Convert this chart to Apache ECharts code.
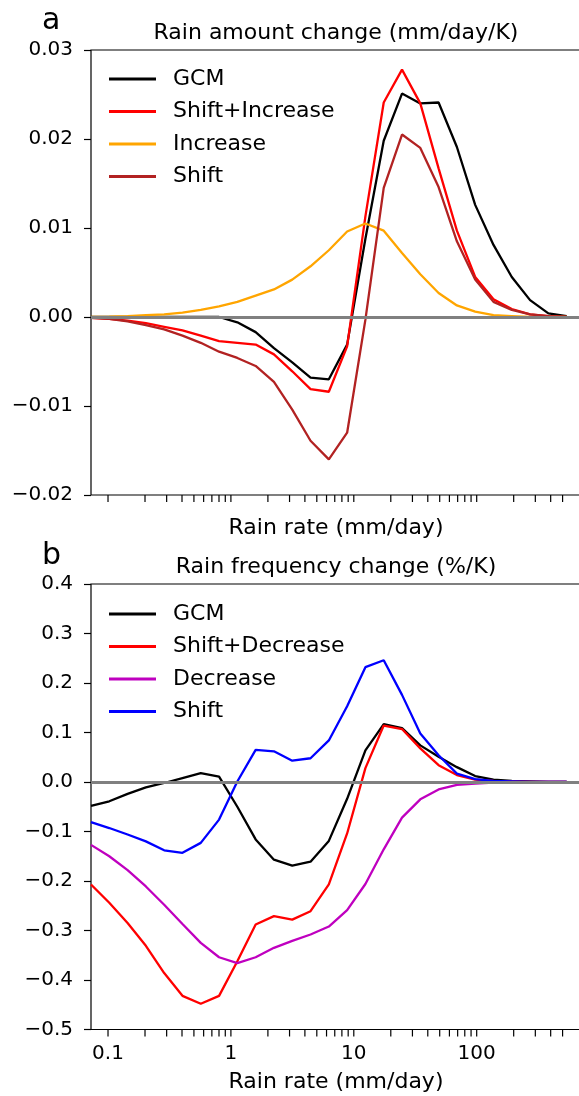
<!DOCTYPE html>
<html>
<head>
<meta charset="utf-8">
<script src="https://cdn.jsdelivr.net/npm/echarts@6/dist/echarts.min.js"></script>
<style>
  html, body { margin: 0; padding: 0; background: #fff; }
  #chart { width: 579px; height: 1096px; }
</style>
</head>
<body>
<div id="chart"></div>
<script>
// rain rate bins (mm/day)
var rainRate = [0.0727, 0.1024, 0.1443, 0.2033, 0.2864, 0.4035, 0.5685, 0.801, 1.128,
    1.590, 2.240, 3.156, 4.446, 6.264, 8.825, 12.43, 17.52, 24.68, 34.77, 48.98,
    69.01, 97.22, 137.0, 193.0, 271.9, 383.1, 539.7];

// panel a: rain amount change (mm/day/K)
var gcmA = [0, 0, 0, 0, 0, 0, 0, 0, -0.0006, -0.0017, -0.0035, -0.0051, -0.0068, -0.0070,
    -0.0031, 0.0088, 0.0198, 0.0251, 0.0240, 0.0241, 0.0191, 0.0126, 0.0081, 0.0045,
    0.0019, 0.0004, 0.0001];
var shiftIncreaseA = [-0.0001, -0.0002, -0.0004, -0.0007, -0.0011, -0.0015, -0.0021, -0.0027,
    -0.0029, -0.0031, -0.0042, -0.0061, -0.0081, -0.0084, -0.0033, 0.0113, 0.0241, 0.0278,
    0.0240, 0.0167, 0.0097, 0.0045, 0.0020, 0.0009, 0.0003, 0.0001, 0];
var increaseA = [0, 0.00004, 0.0001, 0.0002, 0.0003, 0.0005, 0.0008, 0.0012, 0.0017, 0.0024,
    0.0031, 0.0042, 0.0057, 0.0075, 0.0096, 0.0105, 0.0097, 0.0072, 0.0048, 0.0027, 0.0013,
    0.0006, 0.0002, 0.0001, 0, 0, 0];
var shiftA = [-0.0001, -0.0002, -0.0005, -0.0009, -0.0014, -0.0021, -0.0029, -0.0039, -0.0046,
    -0.0055, -0.0073, -0.0104, -0.0139, -0.0160, -0.0130, -0.0003, 0.0145, 0.0205, 0.0190,
    0.0146, 0.0085, 0.0042, 0.0017, 0.0008, 0.0003, 0.0001, 0];

// panel b: rain frequency change (%/K)
var gcmB = [-0.048, -0.039, -0.024, -0.011, -0.002, 0.008, 0.018, 0.011, -0.050, -0.116,
    -0.157, -0.169, -0.161, -0.119, -0.034, 0.064, 0.117, 0.109, 0.074, 0.051, 0.030, 0.012,
    0.005, 0.002, 0.001, 0, 0];
var shiftDecreaseB = [-0.207, -0.244, -0.285, -0.331, -0.386, -0.432, -0.448, -0.432, -0.362,
    -0.288, -0.271, -0.278, -0.261, -0.207, -0.104, 0.028, 0.114, 0.107, 0.068, 0.034, 0.014,
    0.005, 0.002, 0.001, 0, 0, 0];
var decreaseB = [-0.127, -0.150, -0.178, -0.211, -0.248, -0.287, -0.325, -0.354, -0.366, -0.354,
    -0.335, -0.321, -0.308, -0.292, -0.259, -0.206, -0.136, -0.072, -0.035, -0.015, -0.006,
    -0.003, -0.001, 0, 0, 0, 0];
var shiftB = [-0.081, -0.093, -0.106, -0.120, -0.138, -0.143, -0.123, -0.076, 0.001, 0.065,
    0.062, 0.043, 0.048, 0.084, 0.153, 0.232, 0.246, 0.176, 0.098, 0.054, 0.017, 0.006, 0.002,
    0.001, 0, 0, 0];

// axes
var xMin = 0.0727, xMax = 706;
var xTickValues = [0.1, 0.2, 0.3, 0.4, 0.5, 0.6, 0.7, 0.8, 0.9, 1, 2, 3, 4, 5, 6, 7, 8, 9,
    10, 20, 30, 40, 50, 60, 70, 80, 90, 100, 200, 300, 400, 500];
var xTickLabels = ['0.1', '1', '10', '100'];   // decades 10^-1 .. 10^2
var yRangeA = [-0.02, 0.03, 0.01];
var yRangeB = [-0.5, 0.4, 0.1];

var namesA = ['GCM', 'Shift+Increase', 'Increase', 'Shift'];
var namesB = ['GCM', 'Shift+Decrease', 'Decrease', 'Shift'];
var colorsA = ['#000000', '#ff0000', '#ffa500', '#b22222'];
var colorsB = ['#000000', '#ff0000', '#bf00bf', '#0000ff'];

var FONT = 'DejaVu Sans';

function pairs(ys) {
    return rainRate.map(function (x, i) { return [x, ys[i]]; });
}

function fmtY(dec) {
    return function (v) {
        if (Math.abs(v) < 1e-9) return (0).toFixed(dec);
        return (v < 0 ? '\u2212' : '') + Math.abs(v).toFixed(dec);
    };
}

function fmtX(v) {
    var e = Math.log(v) / Math.LN10;
    var r = Math.round(e);
    if (Math.abs(e - r) > 1e-6) return '';
    return xTickLabels[r + 1] || '';
}

function lineSeries(name, ys, color, idx) {
    return {
        name: name,
        type: 'line',
        xAxisIndex: idx,
        yAxisIndex: idx,
        data: pairs(ys),
        symbol: 'none',
        lineStyle: { color: color, width: 2.3 },
        itemStyle: { color: color },
        z: 2
    };
}

function zeroLine() {
    return {
        silent: true,
        symbol: 'none',
        label: { show: false },
        lineStyle: { color: '#808080', width: 2.8, type: 'solid' },
        data: [{ yAxis: 0 }]
    };
}

function tickSeries(idx, yBottom) {
    return {
        type: 'custom',
        xAxisIndex: idx,
        yAxisIndex: idx,
        silent: true,
        data: xTickValues.map(function (v) { return [v, yBottom]; }),
        renderItem: function (params, api) {
            var p = api.coord([api.value(0), api.value(1)]);
            return {
                type: 'line',
                shape: { x1: p[0], y1: p[1], x2: p[0], y2: p[1] + 7 },
                style: { stroke: '#000', lineWidth: 1.2 }
            };
        }
    };
}

function xAxisOpt(idx, showLabels, gap) {
    return {
        type: 'log',
        logBase: 10,
        gridIndex: idx,
        min: xMin,
        max: xMax,
        axisLine: { show: false },
        axisTick: { show: false },
        splitLine: { show: false },
        axisLabel: {
            show: showLabels,
            formatter: fmtX,
            margin: 14,
            color: '#000',
            fontSize: 20,
            fontFamily: FONT
        },
        name: 'Rain rate (mm/day)',
        nameLocation: 'middle',
        nameGap: gap,
        nameTextStyle: { color: '#000', fontSize: 22, fontFamily: FONT }
    };
}

function yAxisOpt(idx, range, dec) {
    return {
        type: 'value',
        gridIndex: idx,
        min: range[0],
        max: range[1],
        interval: range[2],
        axisLine: { show: false },
        axisTick: { show: true, length: 7, lineStyle: { color: '#000', width: 1.2 } },
        splitLine: { show: false },
        axisLabel: {
            formatter: fmtY(dec),
            margin: 18,
            color: '#000',
            fontSize: 20,
            fontFamily: FONT
        }
    };
}

function legendOpt(names, top, suffix) {
    return {
        data: names.map(function (n) { return n + suffix; }),
        formatter: function (n) { return n.replace(' (b)', ''); },
        orient: 'vertical',
        left: 109,
        top: top,
        padding: 0,
        icon: 'rect',
        itemWidth: 47,
        itemHeight: 3,
        itemGap: 10.5,
        selectedMode: false,
        textStyle: { color: '#000', fontSize: 22, fontFamily: FONT, lineHeight: 22, padding: [0, 0, 0, 12] }
    };
}

var seriesList = [];
[gcmA, shiftIncreaseA, increaseA, shiftA].forEach(function (ys, i) {
    seriesList.push(lineSeries(namesA[i], ys, colorsA[i], 0));
});
[gcmB, shiftDecreaseB, decreaseB, shiftB].forEach(function (ys, i) {
    seriesList.push(lineSeries(namesB[i] + ' (b)', ys, colorsB[i], 1));
});
seriesList[3].markLine = zeroLine();
seriesList[7].markLine = zeroLine();
seriesList.push(tickSeries(0, yRangeA[0]));
seriesList.push(tickSeries(1, yRangeB[0]));

var chart = echarts.init(document.getElementById('chart'), null, { renderer: 'canvas' });
chart.setOption({
    backgroundColor: '#fff',
    animation: false,
    textStyle: { fontFamily: FONT },
    title: [
        { text: 'a', left: 42, top: 6, padding: 0,
          textStyle: { fontSize: 30, fontWeight: 'normal', color: '#000', fontFamily: FONT } },
        { text: 'Rain amount change (mm/day/K)', left: 336, top: 22, padding: 0, textAlign: 'center',
          textStyle: { fontSize: 22, fontWeight: 'normal', color: '#000', fontFamily: FONT } },
        { text: 'b', left: 42, top: 541, padding: 0,
          textStyle: { fontSize: 30, fontWeight: 'normal', color: '#000', fontFamily: FONT } },
        { text: 'Rain frequency change (%/K)', left: 336, top: 556, padding: 0, textAlign: 'center',
          textStyle: { fontSize: 22, fontWeight: 'normal', color: '#000', fontFamily: FONT } }
    ],
    legend: [legendOpt(namesA, 68, ''), legendOpt(namesB, 603, ' (b)')],
    grid: [
        { left: 91, top: 50, width: 490, height: 445, show: true, borderColor: '#000', borderWidth: 1.2,
          backgroundColor: 'transparent', containLabel: false, outerBoundsMode: 'none' },
        { left: 91, top: 584, width: 490, height: 445.5, show: true, borderColor: '#000', borderWidth: 1.2,
          backgroundColor: 'transparent', containLabel: false, outerBoundsMode: 'none' }
    ],
    xAxis: [xAxisOpt(0, false, 22), xAxisOpt(1, true, 42)],
    yAxis: [yAxisOpt(0, yRangeA, 2), yAxisOpt(1, yRangeB, 1)],
    series: seriesList
});
</script>
</body>
</html>
